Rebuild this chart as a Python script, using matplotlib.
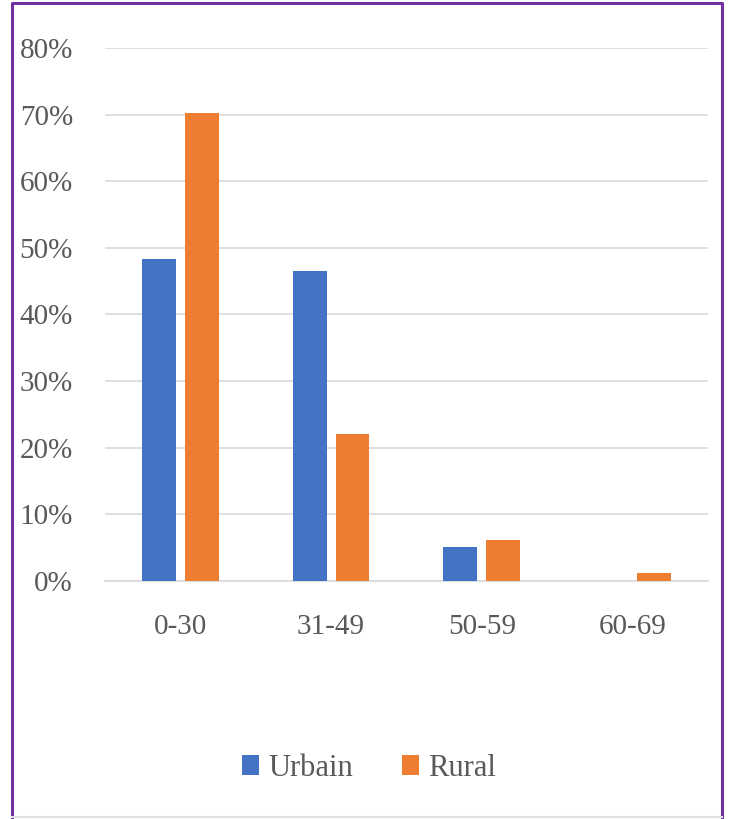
import numpy as np
import matplotlib.pyplot as plt
from matplotlib.lines import Line2D

categories = ['0-30', '31-49', '50-59', '60-69']
urbain = [48.3, 46.5, 5.1, 0.0]
rural = [70.3, 22.1, 6.2, 1.2]

plt.rcParams['font.family'] = ['Liberation Serif', 'DejaVu Serif']

fig = plt.figure(figsize=(7.29, 8.19), dpi=100)
ax = fig.add_axes([0.144, 0.2906, 0.827, 0.6508])

x = np.arange(len(categories))
w = 0.225
gap = 0.06
ax.bar(x - (w + gap) / 2, urbain, w, color='#4472C4', label='Urbain', zorder=3)
ax.bar(x + (w + gap) / 2, rural, w, color='#ED7D31', label='Rural', zorder=3)

ax.set_xlim(-0.5, len(categories) - 0.5)
ax.set_ylim(0, 80)
ax.set_yticks(range(0, 81, 10))
ax.set_yticklabels([f'{v}%' for v in range(0, 81, 10)])
ax.set_xticks(x)
ax.set_xticklabels(categories)
ax.tick_params(axis='both', length=0, labelsize=21, colors='#595959')
ax.tick_params(axis='y', pad=23)
ax.tick_params(axis='x', pad=24)
ax.yaxis.grid(True, color='#D9D9D9', linewidth=1.2, zorder=0)
for s in ['left', 'right', 'top']:
    ax.spines[s].set_visible(False)
ax.spines['bottom'].set_color('#D9D9D9')
ax.spines['bottom'].set_linewidth(1.2)

fig.legend(loc='center', bbox_to_anchor=(0.506, 0.062), ncol=2, frameon=False,
           fontsize=22, labelcolor='#595959', handlelength=0.55, handleheight=0.65,
           handletextpad=0.3, columnspacing=1.6)

# purple frame (left, top, right) and grey bottom edge
L, R, T = 0.017, 0.990, 0.996
fig.lines.append(Line2D([L, L, R, R], [0.0, T, T, 0.0], transform=fig.transFigure,
                        color='#7030A0', linewidth=2.2))
fig.lines.append(Line2D([L, R], [0.003, 0.003], transform=fig.transFigure,
                        color='#E0E0E0', linewidth=1.5))

plt.savefig('out.png', dpi=100)
